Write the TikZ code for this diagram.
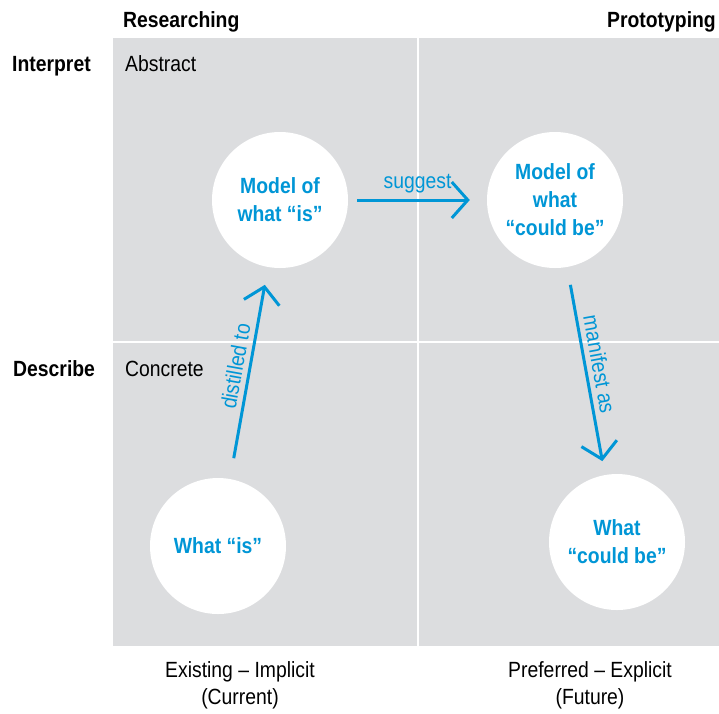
\documentclass[tikz,border=0pt]{standalone}
\usepackage{fontspec}
\setmainfont{Liberation Sans}[FakeStretch=0.88]
\usetikzlibrary{arrows.meta,positioning}
\definecolor{panelgrey}{HTML}{DCDDDF}
\definecolor{ideablue}{HTML}{0096D6}
\tikzset{
	idea/.style={circle,fill=white,minimum size=136pt,inner sep=0pt,text=ideablue,
		font=\bfseries\fontsize{22}{28}\selectfont,align=center},
	flow/.style={draw=ideablue,line width=3pt,-{Straight Barb[length=16pt,width=36pt]}},
	flowtext/.style={text=ideablue,font=\fontsize{22}{26}\selectfont,sloped,above,inner sep=5pt},
	headtext/.style={font=\bfseries\fontsize{22}{26}\selectfont,inner sep=0pt},
	plaintext/.style={font=\fontsize{22}{27}\selectfont,inner sep=0pt,align=center}
}

\begin{document}
\begin{tikzpicture}[x=1pt,y=-1pt]
	\useasboundingbox (0,0) rectangle (719,713);
	% quadrants
	\fill[panelgrey] (113,38) rectangle (719,646);
	\draw[white,line width=2pt] (418,38) -- (418,646);
	\draw[white,line width=2pt] (113,342) -- (719,342);

	% axis labels
	\node[headtext,anchor=base west] (research) at (123,27) {Researching};
	\node[headtext,anchor=base east] (proto) at (716,27) {Prototyping};
	\node[headtext,anchor=base west] (interp) at (12,71) {Interpret};
	\node[headtext,anchor=base west] (descr) at (13,376) {Describe};
	\node[plaintext,anchor=base west] (abstr) at (125,71) {Abstract};
	\node[plaintext,anchor=base west] (concr) at (125,376) {Concrete};
	\node[plaintext] (existing) at (240,685) {Existing – Implicit\\(Current)};
	\node[plaintext] (preferred) at (590,685) {Preferred – Explicit\\(Future)};

	% ideas
	\node[idea] (isModel) at (280,200) {Model of\\what “is”};
	\node[idea] (couldModel) at (555,200) {Model of\\what\\“could be”};
	\node[idea] (whatIs) at (218,546) {What “is”};
	\node[idea] (whatCould) at (617,542) {What\\“could be”};

	% connectors
	\draw[flow,shorten <=9pt,shorten >=17pt] (isModel) -- node[flowtext] (sugg) {suggest} (couldModel);
	\draw[flow,shorten <=21pt,shorten >=18pt] (whatIs) -- node[flowtext,pos=0.52] (distil) {distilled to} (isModel);
	\draw[flow,shorten <=18pt,shorten >=14pt] (couldModel) -- node[flowtext,pos=0.48] (manif) {manifest as} (whatCould);
\end{tikzpicture}
\end{document}
